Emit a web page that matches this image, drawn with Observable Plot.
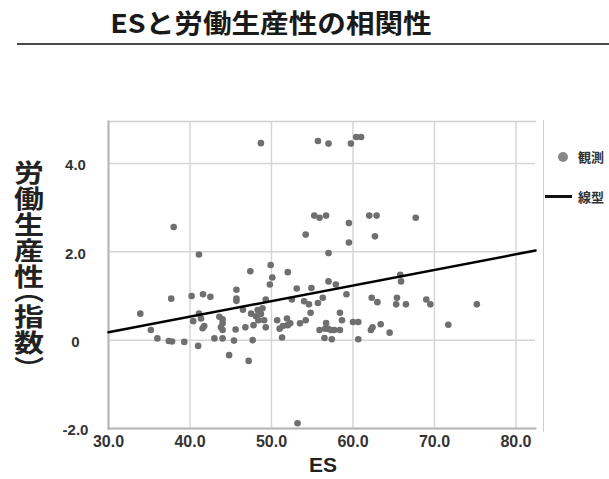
<!DOCTYPE html>
<html>
<head>
<meta charset="utf-8">
<script src="https://cdn.jsdelivr.net/npm/d3@7"></script>
<script src="https://cdn.jsdelivr.net/npm/@observablehq/plot@0.6"></script>
<style>
  html, body { margin: 0; padding: 0; background: #fff; overflow: hidden; }
  #wrap { position: relative; width: 609px; height: 479px; overflow: hidden; }
  #chart { position: absolute; left: 0; top: 0; }
  .title { position: absolute; left: 0; top: 8px; width: 542px; text-align: center;
           font-family: "Noto Sans CJK JP", sans-serif; font-weight: bold; font-size: 26px;
           line-height: 28px; color: #1a1a1a; transform: scaleX(1.1); transform-origin: 271px 0; white-space: nowrap; }
  .rule { position: absolute; left: 17px; top: 43px; width: 592px; height: 2px; background: #4a4a4a; }
  .ylabel { position: absolute; left: 14px; top: 160px; writing-mode: vertical-rl; text-orientation: upright;
            font-family: "Noto Sans CJK JP", sans-serif; font-weight: bold; font-size: 25px; line-height: 30px;
            letter-spacing: 1px; color: #222; font-feature-settings: "vhal"; transform: scaleX(1.2); transform-origin: 15px 0; }
  .xlabel { position: absolute; left: 273px; width: 100px; top: 454px; text-align: center;
            font-family: "Liberation Sans", Arial, sans-serif; font-weight: bold; font-size: 21px; line-height: 22px; color: #222; }
  .vline { position: absolute; left: 543px; top: 120px; width: 1px; height: 312px; background: #cfcfcf; }
  .leg { position: absolute; left: 578px; font-family: "Noto Sans CJK JP", sans-serif; font-weight: bold;
         font-size: 13px; line-height: 14px; color: #333; white-space: nowrap; }
  .legdot { position: absolute; left: 558px; top: 152px; width: 10px; height: 10px; border-radius: 50%; background: #888; }
  .legline { position: absolute; left: 545px; top: 195px; width: 27px; height: 3px; background: #111; }
</style>
</head>
<body>
<div id="wrap">
  <div id="chart"></div>
  <div class="title">ESと労働生産性の相関性</div>
  <div class="rule"></div>
  <div class="ylabel">労働生産性（指数）</div>
  <div class="xlabel">ES</div>
  <div class="vline"></div>
  <div class="legdot"></div>
  <div class="leg" style="top:150px">観測</div>
  <div class="legline"></div>
  <div class="leg" style="top:190px">線型</div>
</div>
<script>
// ES score (x) of each observation
const es = [
  48.7, 55.7, 57.0, 59.75, 60.4, 61.0,
  38.0, 55.25, 55.9, 56.7, 59.5, 62.0, 62.9, 67.7, 54.2, 62.7, 59.5,
  41.1, 57.0, 49.9, 47.4, 52.0, 50.1, 57.0, 65.8, 65.9, 49.8, 57.9,
  45.7, 53.1, 54.9, 59.2, 37.7, 40.2, 41.6, 42.5, 45.7, 45.7, 49.3, 52.5,
  54.0, 54.6, 55.7, 56.3, 62.3, 63.0, 65.4, 65.3, 66.5, 69.0, 69.5, 75.2,
  33.9, 41.1, 40.4, 41.35, 41.75, 41.55, 43.6, 44.0, 44.0, 43.8, 44.0,
  35.2, 36.0, 37.4, 37.8, 39.3, 41.0, 43.0, 44.0,
  45.6, 46.8, 47.8, 49.3, 50.7, 51.9, 51.0, 51.4, 52.0, 52.3, 53.5, 54.2, 54.8,
  51.3, 47.7, 45.4, 44.8, 47.2,
  46.5, 47.5, 48.3, 48.9, 48.1, 48.7, 48.4, 49.1,
  55.9, 56.6, 56.5, 57.4, 58.4, 58.65, 60.0, 60.65,
  56.7, 56.9, 57.3, 57.7, 58.4, 60.65, 62.2, 62.4, 63.4, 64.5, 71.7, 53.2
];
// Labour productivity index (y) of each observation
const productivity = [
  4.46, 4.51, 4.45, 4.45, 4.60, 4.60,
  2.56, 2.82, 2.77, 2.82, 2.65, 2.82, 2.82, 2.77, 2.39, 2.35, 2.21,
  1.94, 1.97, 1.70, 1.56, 1.54, 1.42, 1.33, 1.48, 1.33, 1.26, 1.26,
  1.14, 1.17, 1.18, 1.04, 0.94, 1.00, 1.04, 0.98, 0.94, 0.89, 0.92, 0.92,
  0.88, 0.81, 0.84, 0.96, 0.96, 0.86, 0.96, 0.81, 0.81, 0.92, 0.81, 0.81,
  0.60, 0.60, 0.43, 0.49, 0.32, 0.27, 0.53, 0.47, 0.38, 0.29, 0.23,
  0.23, 0.04, -0.02, -0.03, -0.04, -0.13, 0.04, 0.04,
  0.24, 0.29, 0.34, 0.29, 0.45, 0.49, 0.26, 0.32, 0.34, 0.38, 0.38, 0.45, 0.62,
  0.06, 0.00, -0.01, -0.34, -0.47,
  0.69, 0.60, 0.68, 0.72, 0.54, 0.59, 0.45, 0.45,
  0.23, 0.26, 0.05, 0.02, 0.62, 0.45, 0.41, 0.41,
  0.39, 0.26, 0.23, 0.23, 0.23, 0.02, 0.23, 0.29, 0.36, 0.17, 0.35, -1.88
];
// Linear fit (線型) coefficients
const fitIntercept = -0.88;
const fitSlope = 0.0353;

const xTicks = [30, 40, 50, 60, 70, 80];
const xTickLabels = ["30.0", "40.0", "50.0", "60.0", "70.0", "80.0"];
const yTicks = [-2, 0, 2, 4];
const yTickLabels = ["-2.0", "0", "2.0", "4.0"];
const xDomain = [30, 82.4];
const yDomain = [-2, 4.95];

const points = es.map((x, i) => ({x, y: productivity[i]}));
const fitLine = xDomain.map(x => ({x, y: fitIntercept + fitSlope * x}));

const chart = Plot.plot({
  width: 609,
  height: 479,
  marginLeft: 108,
  marginRight: 74,
  marginTop: 121,
  marginBottom: 51,
  x: {domain: xDomain},
  y: {domain: yDomain},
  style: {fontFamily: "'Liberation Sans', Arial, sans-serif", fontWeight: "bold", fontSize: "15px", color: "#333", background: "transparent"},
  marks: [
    Plot.gridX(xTicks, {stroke: "#d6d6d6", strokeOpacity: 1, strokeWidth: 1.5}),
    Plot.gridY(yTicks, {stroke: "#d6d6d6", strokeOpacity: 1, strokeWidth: 1.5}),
    Plot.frame({anchor: "top", stroke: "#cfcfcf", strokeWidth: 1.5}),
    Plot.frame({anchor: "left", stroke: "#b5b5b5", strokeWidth: 2}),
    Plot.frame({anchor: "bottom", stroke: "#b5b5b5", strokeWidth: 2}),
    Plot.axisX(xTicks, {tickSize: 0, tickPadding: 7, tickFormat: (d, i) => xTickLabels[i], label: null, fontSize: 16}),
    Plot.axisY(yTicks, {tickSize: 0, tickPadding: 33, textAnchor: "middle", dy: 2, tickFormat: (d, i) => yTickLabels[i], label: null, fontSize: 15}),
    Plot.dot(points, {x: "x", y: "y", r: 3.3, fill: "#6f6f6f", stroke: "none"}),
    Plot.line(fitLine, {x: "x", y: "y", stroke: "#000", strokeWidth: 2.5})
  ]
});
document.getElementById("chart").appendChild(chart);
</script>
</body>
</html>
